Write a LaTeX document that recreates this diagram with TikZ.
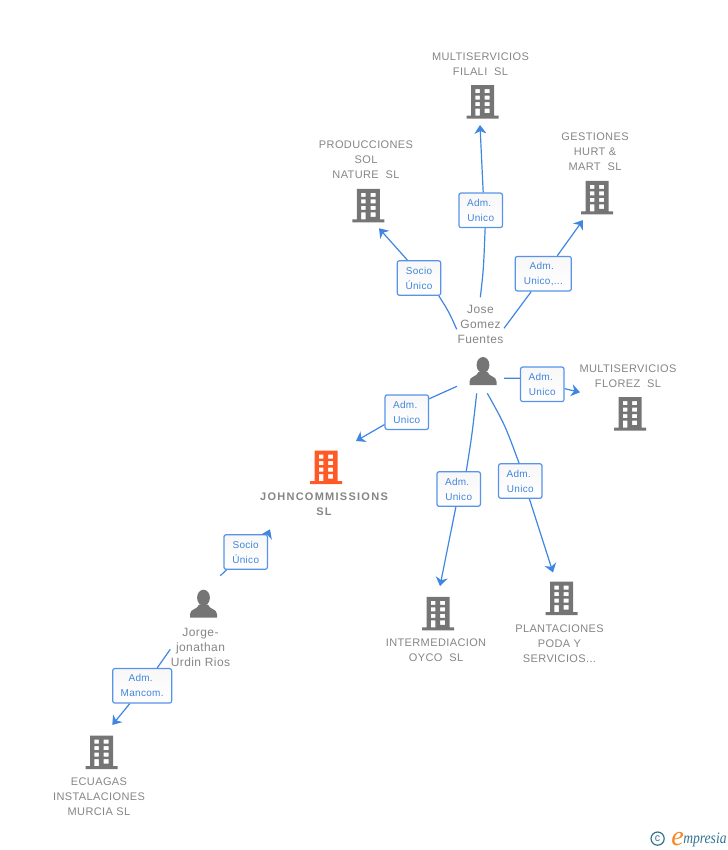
\documentclass[tikz,border=0pt]{standalone}
\usepackage{fontspec}
\setmainfont{Liberation Sans}
\newfontfamily\namefont[LetterSpace=3.5]{Liberation Sans}
\newfontfamily\mainnamefont[LetterSpace=11.5]{Liberation Sans Bold}
\newfontfamily\labfont[LetterSpace=3]{Liberation Sans}
\newfontfamily\logofont{Liberation Serif Italic}
\usetikzlibrary{arrows.meta}
\definecolor{linkblue}{HTML}{3F86E3}
\definecolor{boxblue}{HTML}{5793E8}
\definecolor{labblue}{HTML}{4285DC}
\definecolor{namegray}{HTML}{858585}
\definecolor{iconorange}{HTML}{FF5A26}
\definecolor{icongray}{HTML}{757575}
\definecolor{logoteal}{HTML}{2F7391}
\definecolor{logoorange}{HTML}{F5861F}
\begin{document}
\begin{tikzpicture}[x=0.75pt, y=-0.75pt,
  link/.style={linkblue, line width=0.9pt},
  arrowlink/.style={link, -{Stealth[length=6.5pt, width=9pt, inset=2pt]}},
  lab/.style={draw=boxblue, line width=0.9pt, rounded corners=1.6pt, top color=black!3, bottom color=white, text=labblue, font=\fontsize{7.5}{11.25}\labfont, align=center, minimum width=32.6pt, minimum height=25.9pt, inner sep=0pt},
  compname/.style={text=namegray, font=\fontsize{8.25}{11.25}\namefont, align=center, inner sep=0pt},
  persname/.style={compname, font=\fontsize{9}{11.25}\namefont},
  bldg/.pic={\fill[even odd rule, pic actions] (-11.5,-33.5) rectangle (11.5,-3) (-16,-3) rectangle (16,0)
    (-7.2,-29.5) rectangle (-2.6,-25.5) (2.2,-29.5) rectangle (7.2,-25.5)
    (-7.2,-23) rectangle (-2.6,-19) (2.2,-23) rectangle (7.2,-19)
    (-7.2,-16.5) rectangle (-2.6,-12.5) (2.2,-16.5) rectangle (7.2,-12.5)
    (-7.2,-10) rectangle (-2.6,-3) (2.2,-10) rectangle (7.2,-5.5);},
  person/.pic={\fill[pic actions] (0,-20) ellipse (6.4 and 8);
    \fill[pic actions] (-13.5,0) -- (-13.5,-3.5) .. controls (-13.5,-9) and (-6,-8) .. (-4.5,-13) -- (4.5,-13) .. controls (6,-8) and (13.5,-9) .. (13.5,-3.5) -- (13.5,0) -- cycle;}]

\useasboundingbox (0,0) rectangle (728,850);

\pic[fill=icongray] (bfilali) at (482.5,118.5) {bldg};
\pic[fill=icongray] (bprod) at (368.3,222.3) {bldg};
\pic[fill=icongray] (bgest) at (597,214.3) {bldg};
\pic[fill=icongray] (bflorez) at (630,430.7) {bldg};
\pic[fill=iconorange] (bjohn) at (326,484) {bldg};
\pic[fill=icongray] (binter) at (438,630.3) {bldg};
\pic[fill=icongray] (bplant) at (561.5,615) {bldg};
\pic[fill=icongray] (becua) at (101.5,769) {bldg};
\pic[fill=icongray] (pjose) at (483,385) {person};
\pic[fill=icongray] (pjorge) at (203.5,617.7) {person};

\node[compname] (nfilali) at (480.5,64.2) {MULTISERVICIOS\\FILALI\ \ SL};
\node[compname] (nprod) at (366,159.7) {PRODUCCIONES\\SOL\\NATURE\ \ SL};
\node[compname] (ngest) at (595,151.7) {GESTIONES\\HURT \&\\MART\ \ SL};
\node[compname] (nflorez) at (628,376.2) {MULTISERVICIOS\\FLOREZ\ \ SL};
\node[compname, font=\fontsize{8.25}{11.25}\mainnamefont] (njohn) at (324,504.2) {JOHNCOMMISSIONS\\SL};
\node[compname] (ninter) at (436,650.2) {INTERMEDIACION\\OYCO\ \ SL};
\node[compname] (nplant) at (559.5,643.7) {PLANTACIONES\\PODA Y\\SERVICIOS...};
\node[compname] (necua) at (99,796.7) {ECUAGAS\\INSTALACIONES\\MURCIA SL};
\node[persname] (njose) at (480.5,324.5) {Jose\\Gomez\\Fuentes};
\node[persname] (njorge) at (200.5,647.5) {Jorge-\\jonathan\\Urdin Rios};

\node[lab] (lfilali) at (480.7,210.3) {Adm.\ \null\\Unico};
\node[lab] (lprod) at (419,278) {Socio\\Único};
\node[lab, minimum width=42pt] (lgest) at (543.3,273.7) {Adm.\ \null\\Unico,...};
\node[lab] (lflorez) at (542.3,384.3) {Adm.\ \null\\Unico};
\node[lab] (ljohn) at (406.8,412.2) {Adm.\ \null\\Unico};
\node[lab] (linter) at (458.7,489) {Adm.\ \null\\Unico};
\node[lab] (lplant) at (520.3,481) {Adm.\ \null\\Unico};
\node[lab] (lsocio) at (245.7,552) {Socio\\Único};
\node[lab, minimum width=44.2pt] (lmanc) at (142.2,685.8) {Adm.\ \null\\Mancom.};

\coordinate (sfilali) at (480.3,297.3);
\coordinate (sprod) at (456.7,329.3);
\coordinate (sgest) at (504,328.3);
\coordinate (sflorez) at (504,378.3);
\coordinate (sjohn) at (457,386.3);
\coordinate (sinter) at (476.7,393.3);
\coordinate (splant) at (487.3,393.3);
\coordinate (ssocio) at (220.3,575.7);
\coordinate (smanc) at (170.3,649.3);

\coordinate (tfilali) at (480,125);
\coordinate (tprod) at (379,228.3);
\coordinate (tgest) at (583,220);
\coordinate (tflorez) at (580,392.3);
\coordinate (tjohn) at (356,441);
\coordinate (tinter) at (440,586);
\coordinate (tplant) at (553,572.5);
\coordinate (tsocio) at (270,529.3);
\coordinate (tmanc) at (112.3,725);

\draw[link] (sfilali) .. controls (483.5,270) .. (lfilali.-76);
\draw[arrowlink] (lfilali.82) -- (tfilali);
\draw[link] (sprod) .. controls (449,312) .. (lprod.-42);
\draw[arrowlink] (lprod.123) -- (tprod);
\draw[link] (sgest) -- (lgest.-124);
\draw[arrowlink] (lgest.52) -- (tgest);
\draw[link] (sflorez) -- (lflorez.165);
\draw[arrowlink] (lflorez.-11) -- (tflorez);
\draw[link] (sjohn) -- (ljohn.31);
\draw[arrowlink] (ljohn.209) -- (tjohn);
\draw[link] (sinter) .. controls (472,435) .. (linter.67);
\draw[arrowlink] (linter.-99) -- (tinter);
\draw[link] (splant) .. controls (505,425) .. (lplant.94);
\draw[arrowlink] (lplant.-63) -- (tplant);
\draw[link] (ssocio) -- (lsocio.-137);
\draw[arrowlink] (lsocio.39) -- (tsocio);
\draw[link] (smanc) -- (lmanc.50);
\draw[arrowlink] (lmanc.-125) -- (tmanc);

\draw[logoteal, line width=0.9pt] (657.6,838.6) circle (6.6);
\node[text=logoteal, font=\fontsize{8}{8}\selectfont, inner sep=0pt] (lcopy) at (657.6,838.2) {c};
\node[text=logoorange, font=\fontsize{21}{21}\logofont, inner sep=0pt, anchor=base west] (le) at (671,845) {e};
\node[text=logoteal, font=\fontsize{12}{12}\logofont, inner sep=0pt, anchor=base west] (lname) at (683,843) {\scalebox{0.85}[1]{mpresia}};

\end{tikzpicture}
\end{document}
